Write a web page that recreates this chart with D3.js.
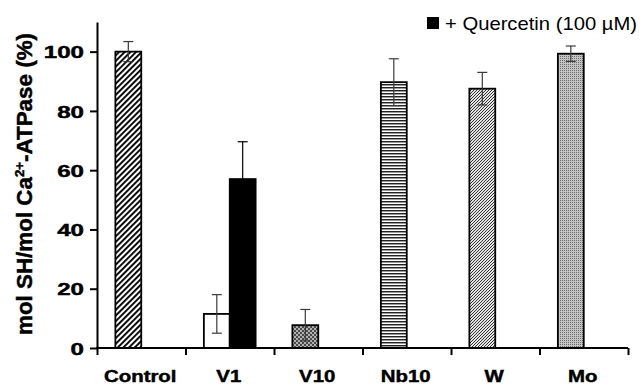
<!DOCTYPE html>
<html>
<head>
<meta charset="utf-8">
<script src="https://cdn.jsdelivr.net/npm/d3@7"></script>
<style>
  html, body { margin: 0; padding: 0; background: #fff; }
  svg { display: block; }
  text { font-family: "Liberation Sans", Arial, sans-serif; fill: #000; }
</style>
</head>
<body>
<div id="chart"></div>
<script>
// values
const categories = ['Control', 'V1', 'V10', 'Nb10', 'W', 'Mo'];
const series = ['without', 'quercetin'];
const meanWithout = [100, 11.5, 7.7, 89.7, 87.5, 99.3];
const errWithout = [3.4, 6.5, 5.3, 7.9, 5.5, 2.6];
const meanQuercetin = [null, 57, null, null, null, null];
const errQuercetin = [null, 12.6, null, null, null, null];
const yTicks = [0, 20, 40, 60, 80, 100];
const legendLabel = '+ Quercetin (100 \u00b5M)';

const width = 641;
const height = 385;
const margin = { top: 22, right: 10, bottom: 37, left: 97 };

const svg = d3
  .select('#chart')
  .append('svg')
  .attr('width', width)
  .attr('height', height);

// fill patterns, one per category
const defs = svg.append('defs');

function pattern(id, w, h) {
  return defs
    .append('pattern')
    .attr('id', id)
    .attr('patternUnits', 'userSpaceOnUse')
    .attr('width', w)
    .attr('height', h);
}

// wide diagonal hatch (Control)
pattern('hatchWide', 4, 4)
  .attr('patternTransform', 'rotate(45)')
  .call(p => {
    p.append('rect').attr('width', 4).attr('height', 4).attr('fill', '#fff');
    p.append('rect').attr('width', 1.9).attr('height', 4).attr('fill', '#000');
  });

// checker (V10)
pattern('checker', 4, 4).call(p => {
  p.append('rect').attr('width', 4).attr('height', 4).attr('fill', '#b0b0b0');
  p.append('rect').attr('width', 2).attr('height', 2).attr('fill', '#4a4a4a');
  p.append('rect').attr('x', 2).attr('y', 2).attr('width', 2).attr('height', 2).attr('fill', '#4a4a4a');
});

// horizontal lines (Nb10)
pattern('horiz', 3, 3).call(p => {
  p.append('rect').attr('width', 3).attr('height', 3).attr('fill', '#fff');
  p.append('rect').attr('width', 3).attr('height', 1).attr('fill', '#222');
  p.append('rect').attr('y', 1).attr('width', 3).attr('height', 1).attr('fill', '#9a9a9a');
});

// fine diagonal (W)
pattern('diagFine', 3, 3).call(p => {
  p.append('rect').attr('width', 3).attr('height', 3).attr('fill', '#e4e4e4');
  [[2, 0], [1, 1], [0, 2]].forEach(([px, py]) =>
    p.append('rect').attr('x', px).attr('y', py).attr('width', 1).attr('height', 1).attr('fill', '#333')
  );
});

// fine dots (Mo)
pattern('dots', 2, 2).call(p => {
  p.append('rect').attr('width', 2).attr('height', 2).attr('fill', '#c4c4c4');
  p.append('rect').attr('width', 1).attr('height', 1).attr('fill', '#6a6a6a');
});

const fillWithout = {
  Control: 'url(#hatchWide)',
  V1: '#fff',
  V10: 'url(#checker)',
  Nb10: 'url(#horiz)',
  W: 'url(#diagFine)',
  Mo: 'url(#dots)'
};

const x = d3
  .scaleBand()
  .domain(categories)
  .range([margin.left, width - margin.right - 3])
  .padding(0);

const xSub = d3
  .scaleBand()
  .domain(series)
  .range([0, x.bandwidth()])
  .paddingInner(0)
  .paddingOuter(0.71);

const xEdge = d3
  .scaleLinear()
  .domain([0, categories.length])
  .range(x.range());

const y = d3
  .scaleLinear()
  .domain([0, 110])
  .range([height - margin.bottom, margin.top]);

const bars = [];
categories.forEach((c, i) => {
  bars.push({ cat: c, s: 'without', v: meanWithout[i], e: errWithout[i], fill: fillWithout[c] });
  if (meanQuercetin[i] != null) {
    bars.push({ cat: c, s: 'quercetin', v: meanQuercetin[i], e: errQuercetin[i], fill: '#000' });
  }
});

svg
  .append('g')
  .attr('class', 'bars')
  .selectAll('rect')
  .data(bars)
  .join('rect')
  .attr('x', d => x(d.cat) + xSub(d.s))
  .attr('y', d => y(d.v))
  .attr('width', xSub.bandwidth())
  .attr('height', d => y(0) - y(d.v))
  .attr('fill', d => d.fill)
  .attr('stroke', '#000')
  .attr('stroke-width', 1.8);

// error bars
const capW = 10;
const err = svg
  .append('g')
  .attr('class', 'errors')
  .attr('stroke-width', 1.2)
  .selectAll('g')
  .data(bars)
  .join('g')
  .attr('stroke', d => (d.fill === '#000' ? '#000' : '#3a3a3a'))
  .attr('transform', d => 'translate(' + (x(d.cat) + xSub(d.s) + xSub.bandwidth() / 2) + ',0)');

err
  .append('line')
  .attr('y1', d => y(d.v - d.e))
  .attr('y2', d => y(d.v + d.e));
err
  .append('line')
  .attr('x1', -capW / 2)
  .attr('x2', capW / 2)
  .attr('y1', d => y(d.v + d.e))
  .attr('y2', d => y(d.v + d.e));
err
  .append('line')
  .attr('x1', -capW / 2)
  .attr('x2', capW / 2)
  .attr('y1', d => y(d.v - d.e))
  .attr('y2', d => y(d.v - d.e));

const heavy = sel => sel.style('font-weight', 'bold').attr('stroke', '#000').attr('stroke-width', 0.45);

// y axis
const yAxis = svg
  .append('g')
  .attr('transform', 'translate(' + margin.left + ',0)')
  .call(d3.axisLeft(y).tickValues(yTicks).tickSize(7).tickSizeOuter(0).tickFormat(d3.format('d')));

yAxis.select('.domain').attr('stroke-width', 2);
yAxis.selectAll('.tick line').attr('stroke-width', 2);
yAxis
  .selectAll('.tick text')
  .attr('x', -13 / 1.42)
  .attr('dy', '0.36em')
  .attr('transform', 'scale(1.42,1)')
  .style('font-size', '17px')
  .call(heavy);

// x axis: boundary ticks
const xTicks = svg
  .append('g')
  .attr('transform', 'translate(0,' + y(0) + ')')
  .call(d3.axisBottom(xEdge).ticks(categories.length).tickSize(7).tickSizeOuter(0).tickFormat(''));
xTicks.select('.domain').attr('stroke-width', 2).attr('d', 'M' + (margin.left - 1) + ',0H' + x.range()[1]);
xTicks.selectAll('.tick line').attr('stroke-width', 2);

// x axis: category labels
const xLabels = svg
  .append('g')
  .attr('transform', 'translate(0,' + y(0) + ')')
  .call(d3.axisBottom(x).tickSize(0));
xLabels.select('.domain').remove();
xLabels
  .selectAll('.tick text')
  .attr('y', 34)
  .attr('dy', null)
  .attr('transform', 'scale(1.2,1)')
  .style('font-size', '17px')
  .call(heavy);
xLabels.selectAll('.tick').attr('transform', d => 'translate(' + (x(d) + x.bandwidth() / 2 - 1) + ',0)');

// y axis title
const yTitle = svg
  .append('text')
  .attr('transform', 'translate(32,184) rotate(-90)')
  .attr('text-anchor', 'middle')
  .attr('textLength', 302)
  .attr('lengthAdjust', 'spacingAndGlyphs')
  .style('font-size', '22px')
  .call(heavy);
yTitle.append('tspan').text('mol SH/mol Ca');
yTitle.append('tspan').attr('dy', -8).style('font-size', '13px').text('2+');
yTitle.append('tspan').attr('dy', 8).text('-ATPase (%)');

// legend
svg
  .append('rect')
  .attr('x', 427)
  .attr('y', 17)
  .attr('width', 12)
  .attr('height', 12)
  .attr('fill', '#000');
svg
  .append('text')
  .attr('x', 445)
  .attr('y', 29.5)
  .attr('textLength', 192)
  .attr('lengthAdjust', 'spacingAndGlyphs')
  .style('font-size', '19px')
  .text(legendLabel);
</script>
</body>
</html>
